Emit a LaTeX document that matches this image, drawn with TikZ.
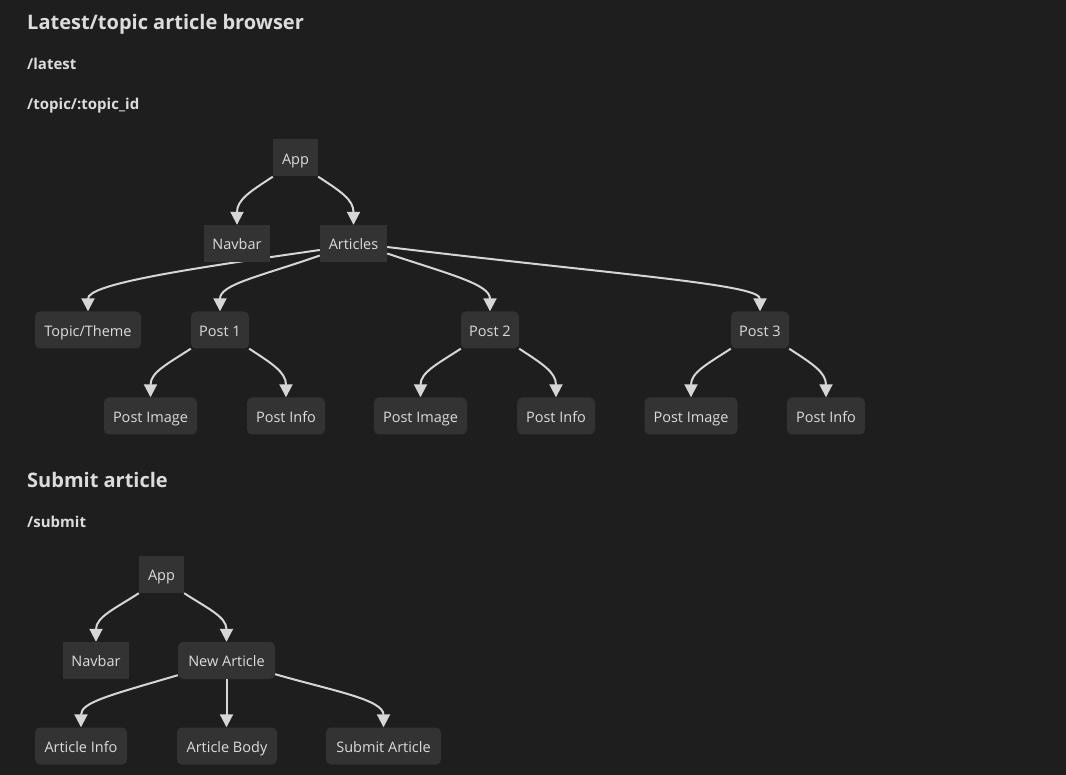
\documentclass[tikz,border=0pt]{standalone}
\usepackage{fontspec}
\setmainfont{Open Sans}
\usetikzlibrary{arrows.meta,calc}
\definecolor{bg}{HTML}{1E1E1E}
\definecolor{boxfill}{HTML}{333333}
\definecolor{txt}{HTML}{DCDCDC}
\definecolor{ln}{HTML}{D6D6D6}
\begin{document}
\begin{tikzpicture}[x=1pt,y=-1pt,
  box/.style={fill=boxfill,text=txt,inner sep=0pt,minimum height=37pt,text height=12.5pt,text depth=0pt,font=\fontsize{14.5}{16}\selectfont},
  rbox/.style={box,rounded corners=5pt},
  edge/.style={draw=ln,line width=2pt,-{Triangle[length=13pt,width=13pt]}},
  heading/.style={anchor=base west,text=txt,inner sep=0pt,font=\fontsize{20}{24}\selectfont\bfseries},
  route/.style={anchor=base west,text=txt,inner sep=0pt,font=\fontsize{15}{17}\selectfont\bfseries}]
\fill[bg] (0,0) rectangle (1066,775);
\useasboundingbox (0,0) rectangle (1066,775);

% headings
\node[heading] (h1) at (27,30) {Latest/topic article browser};
\node[route] (r1) at (27,70) {/latest};
\node[route] (r2) at (27,110) {/topic/:topic\_id};
\node[heading] (h2) at (27,487) {Submit article};
\node[route] (r3) at (27,527) {/submit};

% first diagram nodes
\node[box,minimum width=45pt] (app) at (295.5,158) {App};
\node[box,minimum width=66pt] (nav) at (237,243.5) {Navbar};
\node[box,minimum width=67pt] (art) at (353.5,243.5) {Articles};
\node[rbox,minimum width=106pt] (topic) at (88,330) {Topic/Theme};
\node[rbox,minimum width=58pt] (p1) at (220,330) {Post 1};
\node[rbox,minimum width=58pt] (p2) at (490,330) {Post 2};
\node[rbox,minimum width=58pt] (p3) at (760,330) {Post 3};
\node[rbox,minimum width=93pt] (pi1) at (150.5,416) {Post Image};
\node[rbox,minimum width=78pt] (pf1) at (286,416) {Post Info};
\node[rbox,minimum width=93pt] (pi2) at (420.5,416) {Post Image};
\node[rbox,minimum width=78pt] (pf2) at (556,416) {Post Info};
\node[rbox,minimum width=93pt] (pi3) at (691,416) {Post Image};
\node[rbox,minimum width=78pt] (pf3) at (826,416) {Post Info};

% second diagram nodes
\node[box,minimum width=45pt] (app2) at (161.5,574.5) {App};
\node[box,minimum width=66pt] (nav2) at (96,660.5) {Navbar};
\node[rbox,minimum width=97pt] (na) at (226.5,660.5) {New Article};
\node[rbox,minimum width=92pt] (ai) at (81,746) {Article Info};
\node[rbox,minimum width=100pt] (ab) at (227,746) {Article Body};
\node[rbox,minimum width=115pt] (sa) at (383.5,746) {Submit Article};

% connectors
\draw[edge] (app.south west) .. controls +(-23,15) and +(0,-25) .. (nav.north);
\draw[edge] (app.south east) .. controls +(23,15) and +(0,-25) .. (art.north);
\draw[edge] ($(art.west)+(0,6.5)$) .. controls +(-140,20) and +(0,-27) .. (topic.north);
\draw[edge] ($(art.west)+(0,12)$) .. controls +(-60,21) and +(0,-27) .. (p1.north);
\draw[edge] ($(art.east)+(0,10)$) .. controls +(63,21) and +(0,-27) .. (p2.north);
\draw[edge] ($(art.east)+(0,3.5)$) .. controls +(233,28) and +(0,-27) .. (p3.north);
\draw[edge] (p1.south west) .. controls +(-23,15) and +(0,-25) .. (pi1.north);
\draw[edge] (p1.south east) .. controls +(23,15) and +(0,-25) .. (pf1.north);
\draw[edge] (p2.south west) .. controls +(-23,15) and +(0,-25) .. (pi2.north);
\draw[edge] (p2.south east) .. controls +(23,15) and +(0,-25) .. (pf2.north);
\draw[edge] (p3.south west) .. controls +(-23,15) and +(0,-25) .. (pi3.north);
\draw[edge] (p3.south east) .. controls +(23,15) and +(0,-25) .. (pf3.north);
\draw[edge] (app2.south west) .. controls +(-23,15) and +(0,-25) .. (nav2.north);
\draw[edge] (app2.south east) .. controls +(23,15) and +(0,-25) .. (na.north);
\draw[edge] ($(na.south west)+(0,-4)$) .. controls +(-68,20) and +(0,-25) .. (ai.north);
\draw[edge] (na.south) -- (na.south |- ab.north);
\draw[edge] ($(na.south east)+(0,-5)$) .. controls +(55,16) and +(0,-28) .. (sa.north);

% Navbar drawn again on top of the Articles->Topic connector
\node[box,minimum width=66pt] (navtop) at (nav) {Navbar};
\end{tikzpicture}
\end{document}
